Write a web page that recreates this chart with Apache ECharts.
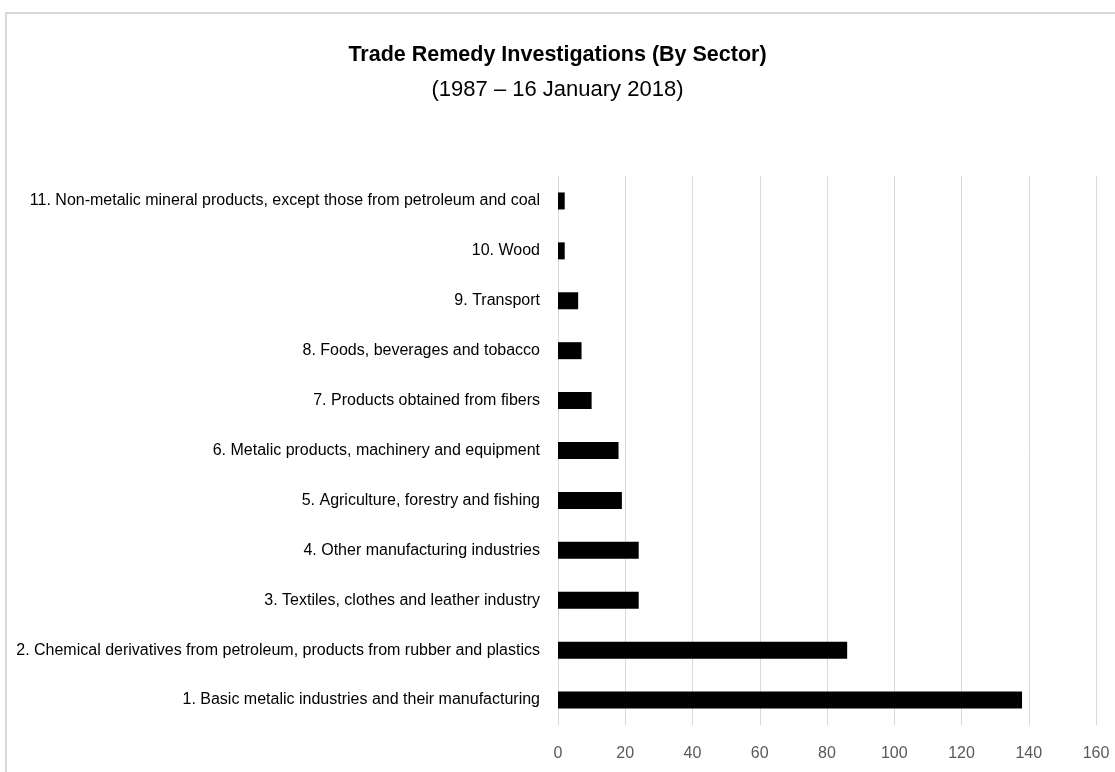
<!DOCTYPE html>
<html>
<head>
<meta charset="utf-8">
<script src="https://cdn.jsdelivr.net/npm/echarts@6/dist/echarts.min.js"></script>
<style>
html,body{margin:0;padding:0;background:#fff;}
#c{width:1115px;height:772px;}
</style>
</head>
<body>
<div id="c"></div>
<script>
const titleText = "Trade Remedy Investigations (By Sector)";
const subtitleText = "(1987 \u2013 16 January 2018)";
const categories = [
  "1. Basic metalic industries and their manufacturing",
  "2. Chemical derivatives from petroleum, products from rubber and plastics",
  "3. Textiles, clothes and leather industry",
  "4. Other manufacturing industries",
  "5. Agriculture, forestry and fishing",
  "6. Metalic products, machinery and equipment",
  "7. Products obtained from fibers",
  "8. Foods, beverages and tobacco",
  "9. Transport",
  "10. Wood",
  "11. Non-metalic mineral products, except those from petroleum and coal"
];
const values = [138, 86, 24, 24, 19, 18, 10, 7, 6, 2, 2];
const xMin = 0, xMax = 160, xStep = 20;

const FONT = "'Liberation Sans', sans-serif";
const chart = echarts.init(document.getElementById('c'), null, {renderer: 'canvas'});
chart.setOption({
  backgroundColor: '#ffffff',
  animation: false,
  title: [
    {text: titleText, left: 'center', top: 39, textStyle: {fontFamily: FONT, fontSize: 21.5, fontWeight: 'bold', color: '#000'}},
    {text: subtitleText, left: 'center', top: 74, textStyle: {fontFamily: FONT, fontSize: 22, fontWeight: 'normal', color: '#000'}}
  ],
  graphic: [{
    type: 'rect', shape: {x: 6, y: 13, width: 1120, height: 780},
    style: {fill: 'none', stroke: '#d9d9d9', lineWidth: 2}, silent: true
  }],
  grid: {left: 558, right: 19, top: 176, bottom: 47, containLabel: false},
  xAxis: {
    type: 'value', min: xMin, max: xMax, interval: xStep,
    axisLine: {show: false}, axisTick: {show: false},
    splitLine: {show: true, lineStyle: {color: '#d9d9d9', width: 1}},
    axisLabel: {margin: 21, fontFamily: FONT, fontSize: 16, color: '#595959'}
  },
  yAxis: {
    type: 'category', data: categories,
    axisLine: {show: true, lineStyle: {color: '#d9d9d9'}}, axisTick: {show: false},
    axisLabel: {margin: 18, fontFamily: FONT, fontSize: 16, color: '#000000'}
  },
  series: [{
    type: 'bar', data: values, barWidth: 17,
    itemStyle: {color: '#000000'}
  }]
});
</script>
</body>
</html>
